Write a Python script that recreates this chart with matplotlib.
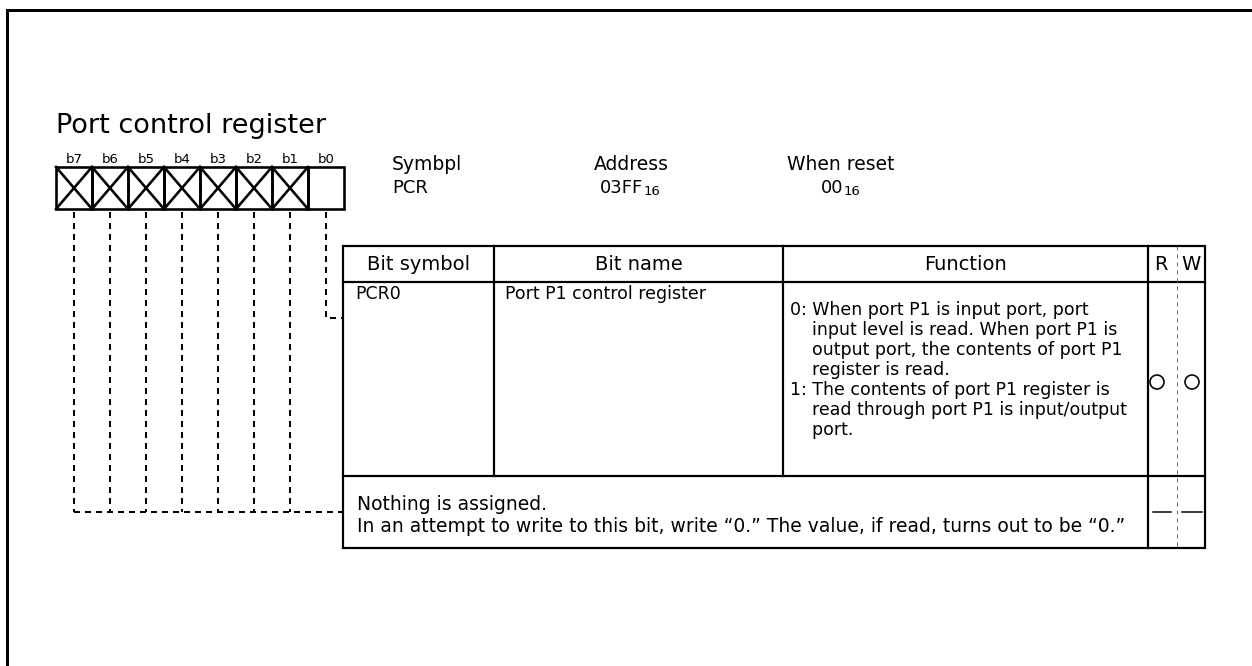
import matplotlib
matplotlib.use("Agg")
import matplotlib.pyplot as plt
from matplotlib.patches import Rectangle, Circle

plt.rcParams['font.family'] = ['DejaVu Sans']

# ---------------- data ----------------
title = "Port control register"
bit_labels = ["b7", "b6", "b5", "b4", "b3", "b2", "b1", "b0"]
bit_reserved = [True, True, True, True, True, True, True, False]
info_heads = ["Symbpl", "Address", "When reset"]
info_values = ["PCR", "03FF", "00"]
info_subs = ["", "16", "16"]
headers = ["Bit symbol", "Bit name", "Function", "R", "W"]
row1_symbol = "PCR0"
row1_name = "Port P1 control register"
function_lines = [
    "0: When port P1 is input port, port",
    "    input level is read. When port P1 is",
    "    output port, the contents of port P1",
    "    register is read.",
    "1: The contents of port P1 register is",
    "    read through port P1 is input/output",
    "    port.",
]
row1_rw = ["circle", "circle"]
row2_lines = [
    "Nothing is assigned.",
    "In an attempt to write to this bit, write \u201c0.\u201d The value, if read, turns out to be \u201c0.\u201d",
]
row2_rw = ["dash", "dash"]

# ---------------- layout ----------------
W, H = 1252, 666
fig = plt.figure(figsize=(W / 100, H / 100), dpi=100)
ax = fig.add_axes([0, 0, 1, 1])
ax.set_xlim(0, W)
ax.set_ylim(H, 0)
ax.axis("off")

def px(v):
    return v * 0.72

K = "black"
BODY = 12.5

# outer frame (left + top)
ax.plot([7, 7, W + 5], [H + 5, 9.5, 9.5], color=K, lw=px(3), solid_joinstyle="miter")

# title
ax.text(56, 133, title, fontsize=19.5, ha="left", va="baseline", color=K)

# register box
bx0, by0, cw, bh = 56, 167, 36, 42
blw = px(2.6)
for i, (lab, res) in enumerate(zip(bit_labels, bit_reserved)):
    x = bx0 + i * cw
    ax.add_patch(Rectangle((x, by0), cw, bh, fill=False, ec=K, lw=blw))
    ax.text(x + cw / 2, 163, lab, fontsize=9.5, ha="center", va="baseline", color=K)
    if res:
        ax.plot([x, x + cw], [by0, by0 + bh], color=K, lw=blw)
        ax.plot([x, x + cw], [by0 + bh, by0], color=K, lw=blw)

# info heads
head_x = [392, 631, 787]
head_align = ["left", "center", "left"]
val_x = [392, 643, 843]
val_align = ["left", "right", "right"]
for i in range(3):
    ax.text(head_x[i], 170, info_heads[i], fontsize=13.5, ha=head_align[i], va="baseline", color=K)
    ax.text(val_x[i], 193, info_values[i], fontsize=13, ha=val_align[i], va="baseline", color=K)
    if info_subs[i]:
        ax.text(val_x[i] + 1, 195, info_subs[i], fontsize=9.5, ha="left", va="baseline", color=K)

# table geometry
tx = [343, 494, 783, 1148, 1177, 1205]
ty = [246, 282, 476, 548]
tlw = px(2.2)
ax.add_patch(Rectangle((tx[0], ty[0]), tx[-1] - tx[0], ty[-1] - ty[0], fill=False, ec=K, lw=tlw))
for yy in ty[1:3]:
    ax.plot([tx[0], tx[-1]], [yy, yy], color=K, lw=tlw)
for xx in tx[1:3]:
    ax.plot([xx, xx], [ty[0], ty[2]], color=K, lw=tlw)
ax.plot([tx[3], tx[3]], [ty[0], ty[3]], color=K, lw=tlw)
ax.plot([tx[4], tx[4]], [ty[0], ty[3]], color="#666666", lw=px(1), ls=(0, (4, 4)))

# headers
hc = (ty[0] + ty[1]) / 2 + 1
for i, h in enumerate(headers[:3]):
    ax.text((tx[i] + tx[i + 1]) / 2, hc, h, fontsize=14, ha="center", va="center", color=K)
ax.text(1161, hc, headers[3], fontsize=14, ha="center", va="center", color=K)
ax.text(1191, hc, headers[4], fontsize=14, ha="center", va="center", color=K)

# row 1
ax.text(355, 299, row1_symbol, fontsize=BODY, ha="left", va="baseline", color=K)
ax.text(505, 299, row1_name, fontsize=BODY, ha="left", va="baseline", color=K)
for j, line in enumerate(function_lines):
    ax.text(790, 315 + 20 * j, line, fontsize=BODY, ha="left", va="baseline", color=K)
rw_cx = [1157, 1192]
for cxp, kind in zip(rw_cx, row1_rw):
    if kind == "circle":
        ax.add_patch(Circle((cxp, 382), 7, fill=False, ec=K, lw=px(1.6)))

# row 2
for j, line in enumerate(row2_lines):
    ax.text(357, 510 + 22 * j, line, fontsize=13.5, ha="left", va="baseline", color=K)
dash_x = [(1153, 1171), (1182, 1202)]
for (a, b), kind in zip(dash_x, row2_rw):
    if kind == "dash":
        ax.plot([a, b], [512, 512], color=K, lw=px(1.5))

# dashed leader lines
dls = (0, (3, 2.5))
for i, res in enumerate(bit_reserved):
    cx = bx0 + i * cw + cw / 2
    if res:
        ax.plot([cx, cx], [212, 512], color=K, lw=px(2), ls=dls)
    else:
        ax.plot([cx, cx, tx[0]], [212, 318, 318], color=K, lw=px(2), ls=dls)
ax.plot([bx0 + cw / 2, tx[0]], [512, 512], color=K, lw=px(2), ls=dls)

fig.savefig("out.png", dpi=100)
